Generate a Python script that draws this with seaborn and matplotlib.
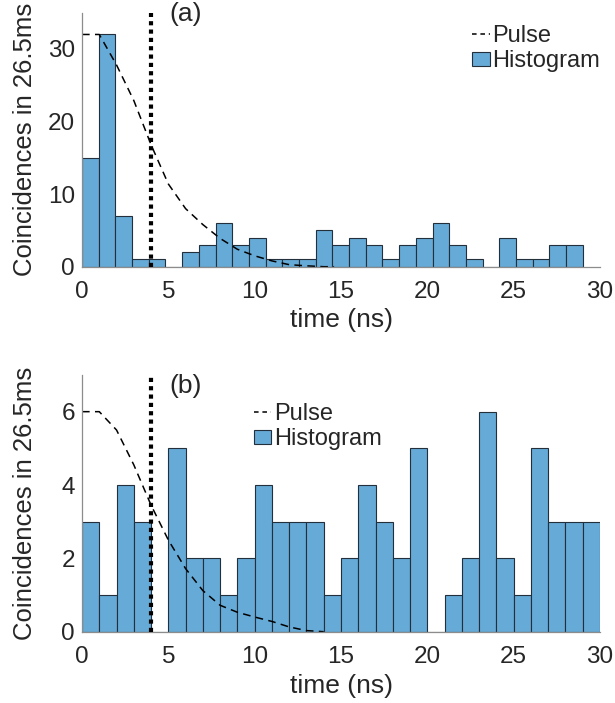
import numpy as np
import pandas as pd
import seaborn as sns
import matplotlib
matplotlib.use("Agg")
import matplotlib.pyplot as plt
from matplotlib.lines import Line2D
from matplotlib.patches import Patch

# ---------------- data ----------------
counts_a = [15, 32, 7, 1, 1, 0, 2, 3, 6, 3, 4, 1, 1, 1, 5, 3, 4, 3, 1, 3,
            4, 6, 3, 1, 0, 4, 1, 1, 3, 3]
counts_b = [3, 1, 4, 3, 0, 5, 2, 2, 1, 2, 4, 3, 3, 3, 1, 2, 4, 3, 2, 5,
            0, 1, 2, 6, 2, 1, 5, 3, 3, 3]
edges_a = [float(v) for v in np.linspace(0, 29, 31)]
edges_b = [float(v) for v in np.linspace(0, 30, 31)]

pulse_t_a = [0, 1, 2, 3, 4, 5, 6, 7, 8, 9, 10, 11, 12, 13, 14, 14.6]
pulse_a = [32, 32, 27.8, 22.9, 16.8, 11.4, 8.0, 5.8, 3.9, 2.4, 1.5, 0.8, 0.28, 0.12, 0, 0]
pulse_t_b = [0, 1, 2, 3, 4, 5, 6, 7, 8, 9, 10, 11, 12, 13, 14]
pulse_b = [6, 6, 5.5, 4.55, 3.45, 2.5, 1.72, 1.12, 0.72, 0.53, 0.4, 0.28, 0.13, 0.03, 0]

marker_t = 4.0
ylims = [(0, 35), (0, 7)]
yticks = [[0, 10, 20, 30], [0, 2, 4, 6]]
xticks = [0, 5, 10, 15, 20, 25, 30]
panel_labels = ["(a)", "(b)"]
ylabel = "Coincidences in 26.5ms"
xlabel = "time (ns)"

# ---------------- style ----------------
sns.set_theme(style="white")
plt.rcParams["font.family"] = ["Liberation Sans", "DejaVu Sans"]
plt.rcParams["axes.edgecolor"] = "#8c8c8c"
plt.rcParams["text.color"] = "#262626"

FACE = "#66AAD7"
EDGE = "#23303c"
TXT = "#262626"

W, H = 615, 703
fig = plt.figure(figsize=(W / 100, H / 100), dpi=100)

def box(l, t, r, b):
    return [l / W, 1 - b / H, (r - l) / W, (b - t) / H]

axes = [fig.add_axes(box(82, 12.7, 600, 266.7)),
        fig.add_axes(box(82, 375, 600, 631.7))]

data = [(counts_a, edges_a, pulse_t_a, pulse_a),
        (counts_b, edges_b, pulse_t_b, pulse_b)]

for i, ax in enumerate(axes):
    counts, edges, pt, pv = data[i]
    centers = [(edges[k] + edges[k + 1]) / 2 for k in range(len(counts))]
    df = pd.DataFrame({"t": centers, "n": counts})
    sns.histplot(data=df, x="t", weights="n", bins=edges, ax=ax,
                 color=FACE, alpha=1.0, edgecolor=EDGE, linewidth=0.8)
    dfp = pd.DataFrame({"t": pt, "p": pv})
    sns.lineplot(data=dfp, x="t", y="p", ax=ax, color="black",
                 linewidth=1.1, estimator=None, sort=False)
    ax.lines[-1].set_dashes((5, 3.5))
    ax.plot([marker_t, marker_t], [0, ylims[i][1]], color="black",
            linewidth=3.0, linestyle=(0, (1, 1.0)),
            dash_capstyle="butt", zorder=5)
    ax.set_xlim(0, 30)
    ax.set_ylim(*ylims[i])
    ax.set_xticks(xticks)
    ax.set_yticks(yticks[i])
    ax.tick_params(direction="in", length=5, width=0.8, color="#8c8c8c",
                   labelsize=17.5, labelcolor=TXT, pad=5)
    ax.tick_params(axis="x", pad=10)
    for s in ["top", "right"]:
        ax.spines[s].set_visible(False)
    for s in ["left", "bottom"]:
        ax.spines[s].set_linewidth(0.9)
    ax.set_xlabel(xlabel, fontsize=19, color=TXT)
    ax.set_ylabel(ylabel, fontsize=18.5, color=TXT)
    ax.yaxis.set_label_coords(-0.086, 0.5)
    ax.xaxis.set_label_coords(0.5, -0.163)
    ax.grid(False)

    handles = [Line2D([0], [0], color="black", linewidth=1.1, dashes=(3, 2.5)),
               Patch(facecolor=FACE, edgecolor=EDGE, linewidth=0.8)]
    anchor = (0.748, 0.962) if i == 0 else (0.327, 0.902)
    ax.legend(handles, ["Pulse", "Histogram"], loc="upper left",
              bbox_to_anchor=anchor, frameon=False, fontsize=17,
              handlelength=0.75, handleheight=0.55, handletextpad=0.12,
              labelspacing=0.15, borderpad=0.1, borderaxespad=0.0)

fig.text(186 / W, 1 - 14 / H, panel_labels[0], ha="center", va="center",
         fontsize=19, color=TXT)
fig.text(186 / W, 1 - 386 / H, panel_labels[1], ha="center", va="center",
         fontsize=19, color=TXT)

fig.savefig("out.png", dpi=100, facecolor="white")
